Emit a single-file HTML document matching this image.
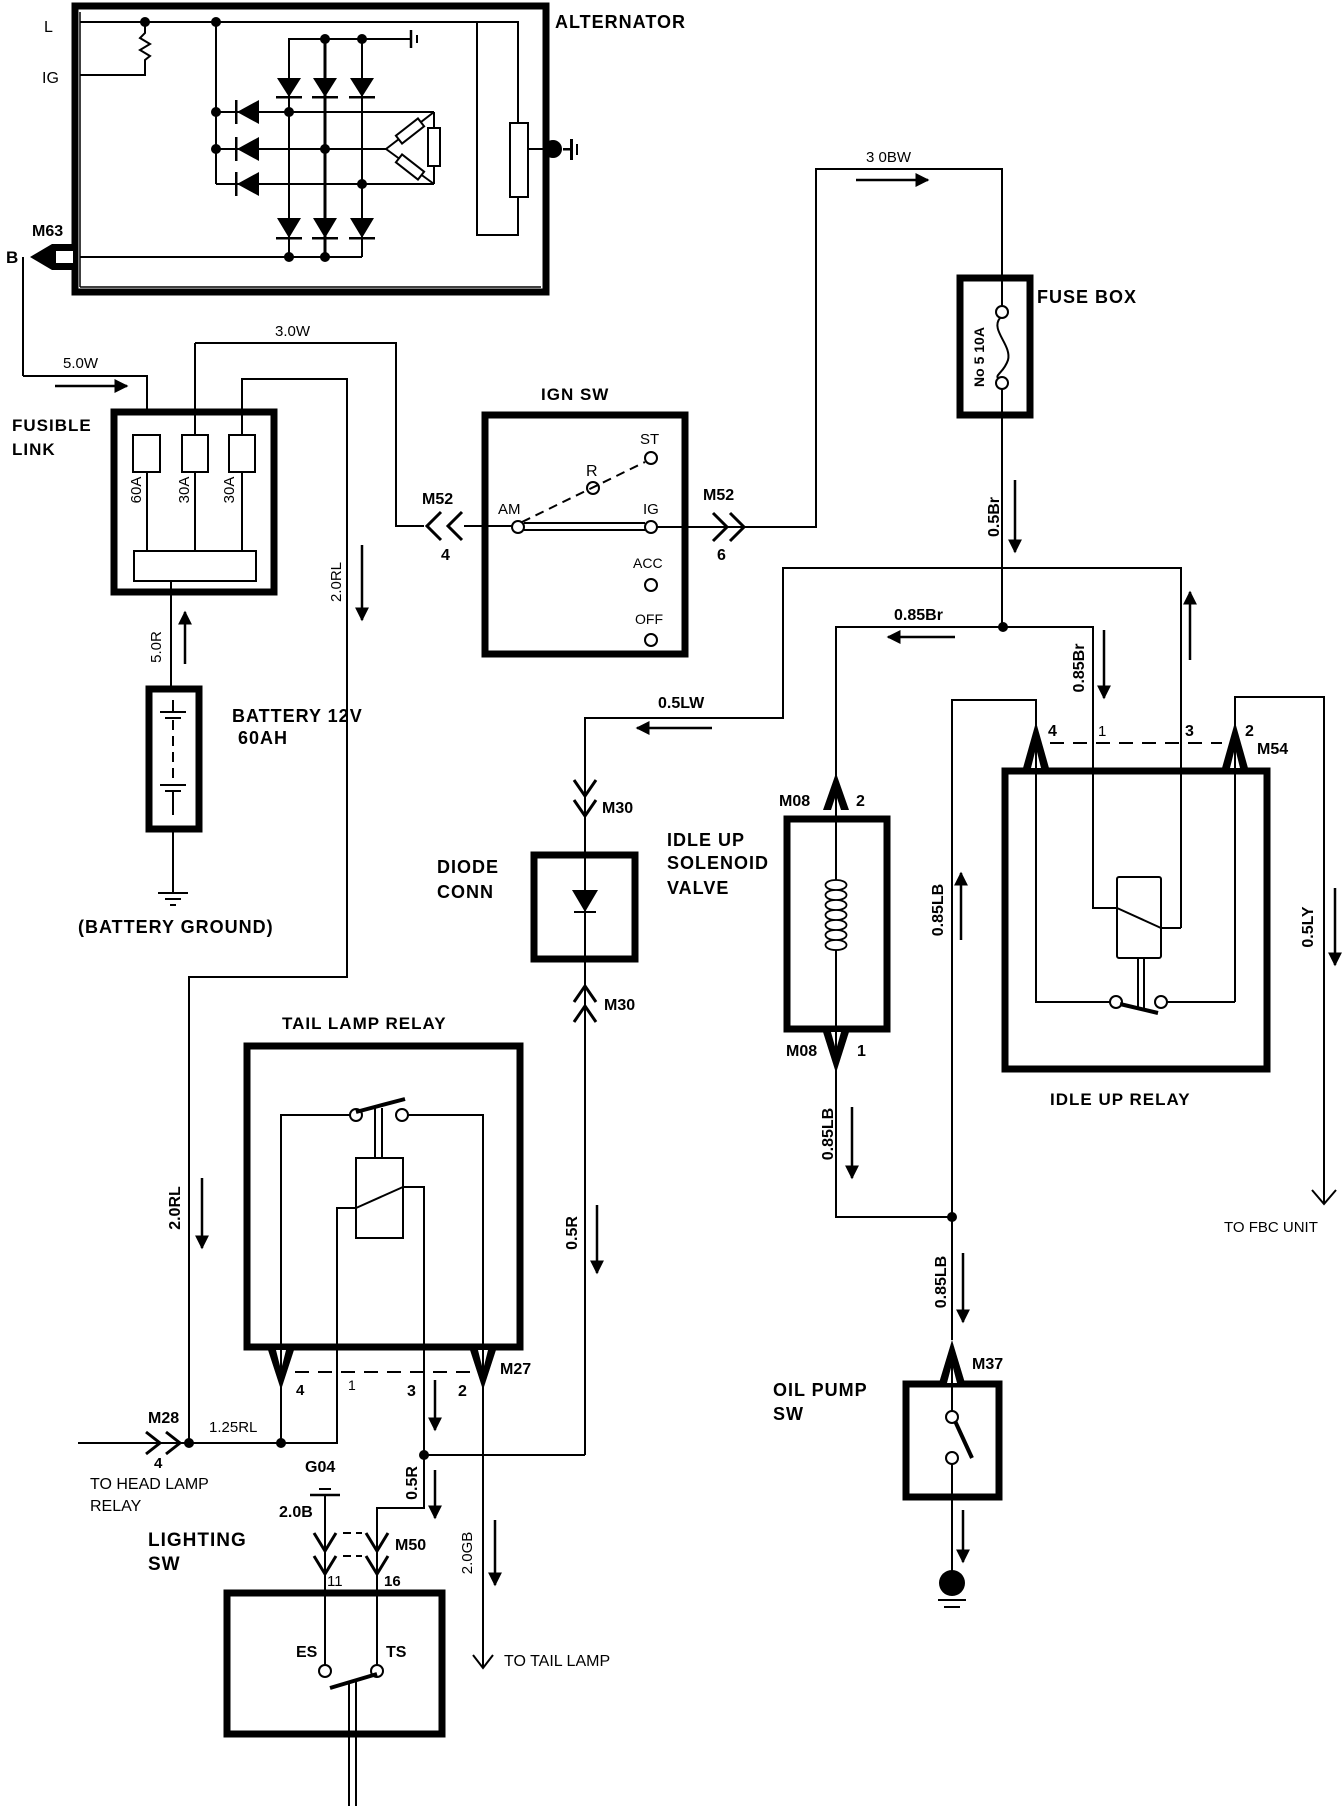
<!DOCTYPE html>
<html><head><meta charset="utf-8"><style>
html,body{margin:0;padding:0;background:#fff}
svg{display:block}
text{font-family:"Liberation Sans",Arial,sans-serif;font-weight:bold;fill:#000}
.h{letter-spacing:1px}
</style></head><body>
<svg width="1344" height="1814" viewBox="0 0 1344 1814" xmlns="http://www.w3.org/2000/svg">
<defs>
<marker id="ah" viewBox="0 0 10 10" refX="9" refY="5" markerWidth="14" markerHeight="15" markerUnits="userSpaceOnUse" orient="auto"><path d="M0,0 L10,5 L0,10z" fill="#000"/></marker>
</defs>
<rect width="1344" height="1814" fill="#fff"/>
<g fill="none" stroke="#000" stroke-width="2">

<!-- ALTERNATOR -->
<rect x="75" y="6" width="471" height="286" stroke-width="7"/>
<line x1="80" y1="287" x2="541" y2="287" stroke-width="1.5"/>
<line x1="80" y1="12" x2="80" y2="287" stroke-width="1.5"/>
<polyline points="80,22 518,22 518,123"/>
<polyline points="518,197 518,235 477,235 477,22"/>
<rect x="510" y="123" width="18" height="74"/>
<line x1="528" y1="149" x2="553" y2="149"/>
<polyline points="145,22 145,33 140,38 150,44 140,50 150,56 145,60 145,75 80,75"/>
<line x1="216" y1="22" x2="216" y2="184"/>
<polyline points="289,257 289,39 411,39"/>
<line x1="325" y1="39" x2="325" y2="257" stroke-width="3"/>
<line x1="362" y1="39" x2="362" y2="257"/>
<line x1="411" y1="30" x2="411" y2="48" stroke-width="2.5"/>
<line x1="417" y1="35" x2="417" y2="43"/>
<line x1="216" y1="112" x2="434" y2="112"/>
<line x1="216" y1="149" x2="386" y2="149"/>
<line x1="216" y1="184" x2="434" y2="184"/>
<line x1="434" y1="112" x2="434" y2="184"/>
<rect x="428" y="128" width="12" height="38" fill="#fff"/>
<line x1="386" y1="149" x2="434" y2="112"/>
<line x1="386" y1="149" x2="434" y2="184"/>
<rect x="396" y="126" width="28" height="10" fill="#fff" transform="rotate(-38 410 131)"/>
<rect x="396" y="162" width="28" height="10" fill="#fff" transform="rotate(38 410 167)"/>
<line x1="80" y1="257" x2="362" y2="257"/>
<line x1="23" y1="257" x2="23" y2="376"/>
<polyline points="23,376 147,376 147,414"/>

<!-- FUSIBLE LINK -->
<rect x="114" y="412" width="160" height="180" stroke-width="7"/>
<rect x="133" y="435" width="27" height="37"/>
<rect x="182" y="435" width="26" height="37"/>
<rect x="229" y="435" width="26" height="37"/>
<line x1="147" y1="472" x2="147" y2="551"/>
<line x1="195" y1="472" x2="195" y2="551"/>
<line x1="242" y1="472" x2="242" y2="551"/>
<line x1="195" y1="435" x2="195" y2="343"/>
<polyline points="195,343 396,343 396,526 424,526"/>
<polyline points="242,435 242,379 347,379 347,977 189,977 189,1443"/>
<rect x="134" y="551" width="122" height="30"/>
<line x1="171" y1="581" x2="171" y2="688"/>
<line x1="185" y1="664" x2="185" y2="612" stroke-width="2.5" marker-end="url(#ah)"/>
<line x1="362" y1="545" x2="362" y2="620" stroke-width="2.5" marker-end="url(#ah)"/>
<line x1="55" y1="386" x2="127" y2="386" stroke-width="2.5" marker-end="url(#ah)"/>

<!-- BATTERY -->
<rect x="149" y="689" width="50" height="140" stroke-width="7"/>
<line x1="173" y1="700" x2="173" y2="712"/>
<line x1="160" y1="712" x2="186" y2="712"/>
<line x1="165" y1="718" x2="181" y2="718"/>
<line x1="173" y1="720" x2="173" y2="785" stroke-dasharray="10,6"/>
<line x1="160" y1="785" x2="186" y2="785"/>
<line x1="165" y1="791" x2="181" y2="791"/>
<line x1="173" y1="791" x2="173" y2="815"/>
<line x1="173" y1="832" x2="173" y2="893"/>
<line x1="158" y1="893" x2="188" y2="893"/>
<line x1="165" y1="899" x2="181" y2="899"/>
<line x1="170" y1="905" x2="176" y2="905"/>

<!-- IGN SW -->
<rect x="485" y="415" width="200" height="239" stroke-width="7"/>
<line x1="464" y1="526" x2="512" y2="526"/>
<polyline points="441,512 427,526 441,540" stroke-width="3"/>
<polyline points="462,512 448,526 462,540" stroke-width="3"/>
<circle cx="518" cy="527" r="6"/>
<circle cx="651" cy="527" r="6"/>
<circle cx="593" cy="488" r="6"/>
<circle cx="651" cy="458" r="6"/>
<circle cx="651" cy="585" r="6"/>
<circle cx="651" cy="640" r="6"/>
<line x1="524" y1="523" x2="645" y2="523"/>
<line x1="524" y1="530" x2="645" y2="530"/>
<line x1="522" y1="522" x2="645" y2="462" stroke-dasharray="9,6"/>
<line x1="657" y1="527" x2="748" y2="527"/>
<polyline points="713,513 727,527 713,541" stroke-width="3"/>
<polyline points="730,513 744,527 730,541" stroke-width="3"/>
<polyline points="748,527 816,527 816,169 1002,169 1002,275"/>
<line x1="856" y1="180" x2="928" y2="180" stroke-width="2.5" marker-end="url(#ah)"/>

<!-- FUSE BOX -->
<rect x="960" y="278" width="70" height="137" stroke-width="7"/>
<line x1="1002" y1="278" x2="1002" y2="306"/>
<circle cx="1002" cy="312" r="6"/>
<path d="M1000,318 C990,330 1012,345 1008,360 C1004,372 995,375 998,378"/>
<circle cx="1002" cy="383" r="6"/>
<line x1="1002" y1="389" x2="1002" y2="627"/>
<line x1="1015" y1="480" x2="1015" y2="552" stroke-width="2.5" marker-end="url(#ah)"/>

<!-- wires to idle up relay -->
<polyline points="1181,928 1181,568 783,568 783,718 585,718 585,852"/>
<line x1="712" y1="728" x2="637" y2="728" stroke-width="2.5" marker-end="url(#ah)"/>
<polyline points="836,773 836,627 1093,627 1093,908 1117,908"/>
<line x1="955" y1="637" x2="888" y2="637" stroke-width="2.5" marker-end="url(#ah)"/>
<line x1="1104" y1="630" x2="1104" y2="698" stroke-width="2.5" marker-end="url(#ah)"/>
<line x1="1190" y1="660" x2="1190" y2="592" stroke-width="2.5" marker-end="url(#ah)"/>
<line x1="1161" y1="928" x2="1181" y2="928"/>

<!-- DIODE CONN -->
<polyline points="574,780 585,796 596,780" stroke-width="3"/>
<polyline points="574,800 585,816 596,800" stroke-width="3"/>
<rect x="534" y="855" width="101" height="104" stroke-width="7"/>
<line x1="585" y1="855" x2="585" y2="1455"/>
<line x1="574" y1="912" x2="596" y2="912"/>
<polyline points="574,1002 585,986 596,1002" stroke-width="3"/>
<polyline points="574,1022 585,1006 596,1022" stroke-width="3"/>
<line x1="597" y1="1205" x2="597" y2="1273" stroke-width="2.5" marker-end="url(#ah)"/>

<!-- IDLE UP SOLENOID -->
<rect x="787" y="819" width="100" height="210" stroke-width="7"/>
<line x1="836" y1="773" x2="836" y2="880"/>
<path d="M836,880 C850,880 850,890 836,890 C822,890 822,880 836,880 M836,890 C850,890 850,900 836,900 C822,900 822,890 836,890 M836,900 C850,900 850,910 836,910 C822,910 822,900 836,900 M836,910 C850,910 850,920 836,920 C822,920 822,910 836,910 M836,920 C850,920 850,930 836,930 C822,930 822,920 836,920 M836,930 C850,930 850,940 836,940 C822,940 822,930 836,930 M836,940 C850,940 850,950 836,950 C822,950 822,940 836,940" stroke-width="1.8"/>
<polyline points="836,950 836,1217 952,1217"/>
<line x1="852" y1="1107" x2="852" y2="1178" stroke-width="2.5" marker-end="url(#ah)"/>

<!-- IDLE UP RELAY -->
<rect x="1005" y="771" width="262" height="298" stroke-width="7"/>
<polyline points="952,1340 952,700 1036,700 1036,1002 1110,1002"/>
<polyline points="1235,746 1235,697 1324,697 1324,1204"/>
<polyline points="1312,1190 1324,1204 1336,1190" stroke-width="2"/>
<line x1="1235" y1="771" x2="1235" y2="1002"/>
<line x1="1235" y1="1002" x2="1167" y2="1002"/>
<line x1="1050" y1="743" x2="1222" y2="743" stroke-dasharray="14,9"/>
<rect x="1117" y="877" width="44" height="81" rx="2"/>
<line x1="1117" y1="908" x2="1161" y2="928"/>
<line x1="1138" y1="958" x2="1138" y2="1008"/>
<line x1="1144" y1="958" x2="1144" y2="1008"/>
<circle cx="1116" cy="1002" r="6"/>
<circle cx="1161" cy="1002" r="6"/>
<line x1="1120" y1="1004" x2="1158" y2="1013" stroke-width="4"/>
<line x1="961" y1="940" x2="961" y2="873" stroke-width="2.5" marker-end="url(#ah)"/>
<line x1="1335" y1="888" x2="1335" y2="965" stroke-width="2.5" marker-end="url(#ah)"/>

<!-- OIL PUMP SW -->
<line x1="963" y1="1253" x2="963" y2="1322" stroke-width="2.5" marker-end="url(#ah)"/>
<rect x="906" y="1384" width="93" height="113" stroke-width="7"/>
<line x1="952" y1="1384" x2="952" y2="1411"/>
<circle cx="952" cy="1417" r="6"/>
<circle cx="952" cy="1458" r="6"/>
<line x1="955" y1="1421" x2="972" y2="1458" stroke-width="4"/>
<line x1="952" y1="1464" x2="952" y2="1583"/>
<line x1="963" y1="1510" x2="963" y2="1562" stroke-width="2.5" marker-end="url(#ah)"/>
<line x1="938" y1="1600" x2="966" y2="1600"/>
<line x1="944" y1="1607" x2="960" y2="1607"/>

<!-- TAIL LAMP RELAY -->
<rect x="247" y="1046" width="273" height="301" stroke-width="7"/>
<polyline points="281,1350 281,1115 350,1115"/>
<circle cx="356" cy="1115" r="6"/>
<circle cx="402" cy="1115" r="6"/>
<polyline points="408,1115 483,1115 483,1350"/>
<line x1="356" y1="1112" x2="405" y2="1099" stroke-width="4"/>
<line x1="375" y1="1108" x2="375" y2="1158"/>
<line x1="382" y1="1108" x2="382" y2="1158"/>
<rect x="356" y="1158" width="47" height="80"/>
<line x1="356" y1="1208" x2="403" y2="1187"/>
<polyline points="356,1208 337,1208 337,1443 189,1443"/>
<polyline points="403,1187 424,1187 424,1508 377,1508 377,1590"/>
<polyline points="424,1455 585,1455"/>
<line x1="281" y1="1350" x2="281" y2="1443"/>
<line x1="483" y1="1350" x2="483" y2="1668"/>
<polyline points="473,1655 483,1668 493,1655"/>
<line x1="295" y1="1372" x2="470" y2="1372" stroke-dasharray="14,9"/>
<line x1="202" y1="1178" x2="202" y2="1248" stroke-width="2.5" marker-end="url(#ah)"/>
<line x1="435" y1="1380" x2="435" y2="1430" stroke-width="2.5" marker-end="url(#ah)"/>
<line x1="435" y1="1470" x2="435" y2="1518" stroke-width="2.5" marker-end="url(#ah)"/>
<line x1="495" y1="1520" x2="495" y2="1585" stroke-width="2.5" marker-end="url(#ah)"/>
<line x1="78" y1="1443" x2="189" y2="1443"/>
<polyline points="146,1432 160,1443 146,1454" stroke-width="3"/>
<polyline points="166,1432 180,1443 166,1454" stroke-width="3"/>

<!-- LIGHTING SW -->
<line x1="310" y1="1495" x2="340" y2="1495" stroke-width="2.5"/>
<line x1="319" y1="1489" x2="331" y2="1489"/>
<line x1="325" y1="1495" x2="325" y2="1665"/>
<line x1="377" y1="1590" x2="377" y2="1665"/>
<polyline points="314,1533 325,1551 336,1533" stroke-width="3"/>
<polyline points="314,1556 325,1574 336,1556" stroke-width="3"/>
<polyline points="366,1533 377,1551 388,1533" stroke-width="3"/>
<polyline points="366,1556 377,1574 388,1556" stroke-width="3"/>
<line x1="343" y1="1533" x2="362" y2="1533" stroke-dasharray="8,5"/>
<line x1="343" y1="1556" x2="362" y2="1556" stroke-dasharray="8,5"/>
<rect x="227" y="1593" width="215" height="141" stroke-width="7"/>
<circle cx="325" cy="1671" r="6"/>
<circle cx="377" cy="1671" r="6"/>
<line x1="330" y1="1688" x2="377" y2="1674" stroke-width="4"/>
<line x1="349" y1="1684" x2="349" y2="1806"/>
<line x1="356" y1="1682" x2="356" y2="1806"/>
</g>

<!-- filled items -->
<g fill="#000" stroke="none">
<circle cx="145" cy="22" r="5"/><circle cx="216" cy="22" r="5"/>
<circle cx="325" cy="39" r="5"/><circle cx="362" cy="39" r="5"/>
<circle cx="216" cy="112" r="5"/><circle cx="216" cy="149" r="5"/>
<circle cx="289" cy="112" r="5"/><circle cx="325" cy="149" r="5"/><circle cx="362" cy="184" r="5"/>
<circle cx="289" cy="257" r="5"/><circle cx="325" cy="257" r="5"/>
<circle cx="553" cy="149" r="9"/>
<polygon points="277,78 301,78 289,97"/><polygon points="313,78 337,78 325,97"/><polygon points="350,78 374,78 362,97"/>
<polygon points="277,218 301,218 289,238"/><polygon points="313,218 337,218 325,238"/><polygon points="350,218 374,218 362,238"/>
<rect x="276" y="96" width="26" height="2.5"/><rect x="312" y="96" width="26" height="2.5"/><rect x="349" y="96" width="26" height="2.5"/>
<rect x="276" y="237" width="26" height="2.5"/><rect x="312" y="237" width="26" height="2.5"/><rect x="349" y="237" width="26" height="2.5"/>
<polygon points="259,100 259,124 237,112"/><polygon points="259,137 259,161 237,149"/><polygon points="259,172 259,196 237,184"/>
<rect x="235" y="100" width="2.5" height="24"/><rect x="235" y="137" width="2.5" height="24"/><rect x="235" y="172" width="2.5" height="24"/>
<polygon points="30,257 52,244 75,244 75,270 52,270"/>
<polygon points="56,251 73,251 73,263 56,263" fill="#fff"/>
<rect x="563" y="148" width="8" height="2.5"/>
<rect x="570" y="139" width="3" height="21"/><rect x="576" y="144" width="2" height="11"/>
<circle cx="1003" cy="627" r="5"/>
<circle cx="952" cy="1217" r="5"/>
<circle cx="189" cy="1443" r="5"/>
<circle cx="281" cy="1443" r="5"/>
<circle cx="424" cy="1455" r="5"/>
<circle cx="952" cy="1583" r="13"/>
<polygon points="572,890 598,890 585,912"/>
<polygon points="836,773 823,810 849,810"/>
<polygon points="1036,722 1023,768 1049,768"/>
<polygon points="1235,722 1222,768 1248,768"/>
<polygon points="952,1340 939,1383 965,1383"/>
<polygon points="836,1073 823,1032 849,1032"/>
<polygon points="281,1390 268,1350 294,1350"/>
<polygon points="483,1390 470,1350 496,1350"/>
</g>
<g fill="#fff" stroke="none">
<polygon points="836,795 831,810 841,810"/>
<polygon points="1036,748 1031,768 1041,768"/>
<polygon points="1235,748 1230,768 1240,768"/>
<polygon points="952,1364 947,1383 957,1383"/>
<polygon points="836,1050 831,1032 841,1032"/>
<polygon points="281,1370 276,1350 286,1350"/>
<polygon points="483,1370 478,1350 488,1350"/>
</g>
<g stroke="#000" stroke-width="2">
<line x1="836" y1="795" x2="836" y2="810"/><line x1="1036" y1="748" x2="1036" y2="768"/><line x1="1235" y1="748" x2="1235" y2="768"/>
<line x1="952" y1="1364" x2="952" y2="1383"/><line x1="836" y1="1032" x2="836" y2="1050"/>
<line x1="281" y1="1350" x2="281" y2="1370"/><line x1="483" y1="1350" x2="483" y2="1370"/>
</g>

<!-- TEXT -->
<g font-size="16">
<text class="h" x="555" y="28" font-size="18">ALTERNATOR</text>
<text x="44" y="32" style="font-weight:normal" font-size="16">L</text>
<text x="42" y="83" style="font-weight:normal" font-size="16">IG</text>
<text x="32" y="236" font-size="16">M63</text>
<text x="6" y="263" font-size="17">B</text>
<text x="63" y="368" font-size="15" style="font-weight:normal">5.0W</text>
<text x="275" y="336" font-size="15" style="font-weight:normal">3.0W</text>
<text class="h" x="12" y="431" font-size="17">FUSIBLE</text>
<text class="h" x="12" y="455" font-size="17">LINK</text>
<text class="h" x="232" y="722" font-size="18">BATTERY 12V</text>
<text class="h" x="238" y="744" font-size="18">60AH</text>
<text class="h" x="78" y="933" font-size="18">(BATTERY GROUND)</text>
<text class="h" x="541" y="400" font-size="17">IGN SW</text>
<text x="422" y="504" font-size="16">M52</text>
<text x="441" y="560" font-size="16">4</text>
<text x="703" y="500" font-size="16">M52</text>
<text x="717" y="560" font-size="16">6</text>
<text x="498" y="514" font-size="15" style="font-weight:normal">AM</text>
<text x="643" y="514" font-size="15" style="font-weight:normal">IG</text>
<text x="640" y="444" font-size="15" style="font-weight:normal">ST</text>
<text x="586" y="476" font-size="16" style="font-weight:normal">R</text>
<text x="633" y="568" font-size="14" style="font-weight:normal">ACC</text>
<text x="635" y="624" font-size="14" style="font-weight:normal">OFF</text>
<text x="866" y="162" font-size="15" style="font-weight:normal">3 0BW</text>
<text class="h" x="1037" y="303" font-size="18">FUSE BOX</text>
<text x="894" y="620" font-size="16">0.85Br</text>
<text x="658" y="708" font-size="16">0.5LW</text>
<text x="602" y="813" font-size="16">M30</text>
<text x="604" y="1010" font-size="16">M30</text>
<text class="h" x="437" y="873" font-size="18">DIODE</text>
<text class="h" x="437" y="898" font-size="18">CONN</text>
<text class="h" x="667" y="846" font-size="18">IDLE UP</text>
<text class="h" x="667" y="869" font-size="18">SOLENOID</text>
<text class="h" x="667" y="894" font-size="18">VALVE</text>
<text x="779" y="806" font-size="16">M08</text>
<text x="856" y="806" font-size="16">2</text>
<text x="786" y="1056" font-size="16">M08</text>
<text x="857" y="1056" font-size="16">1</text>
<text x="1048" y="736" font-size="16">4</text>
<text x="1098" y="736" font-size="15" style="font-weight:normal">1</text>
<text x="1185" y="736" font-size="16">3</text>
<text x="1245" y="736" font-size="16">2</text>
<text x="1257" y="754" font-size="16">M54</text>
<text class="h" x="1050" y="1105" font-size="17">IDLE UP RELAY</text>
<text x="1224" y="1232" font-size="15" style="font-weight:normal">TO FBC UNIT</text>
<text x="972" y="1369" font-size="16">M37</text>
<text class="h" x="773" y="1396" font-size="18">OIL PUMP</text>
<text class="h" x="773" y="1420" font-size="18">SW</text>
<text class="h" x="282" y="1029" font-size="17">TAIL LAMP RELAY</text>
<text x="296" y="1395" font-size="15">4</text>
<text x="348" y="1390" font-size="14" style="font-weight:normal">1</text>
<text x="407" y="1396" font-size="16">3</text>
<text x="458" y="1396" font-size="16">2</text>
<text x="500" y="1374" font-size="16">M27</text>
<text x="148" y="1423" font-size="16">M28</text>
<text x="209" y="1432" font-size="15" style="font-weight:normal">1.25RL</text>
<text x="154" y="1468" font-size="15">4</text>
<text x="90" y="1489" font-size="16" style="font-weight:normal">TO HEAD LAMP</text>
<text x="90" y="1511" font-size="16" style="font-weight:normal">RELAY</text>
<text x="305" y="1472" font-size="16">G04</text>
<text x="279" y="1517" font-size="16">2.0B</text>
<text x="395" y="1550" font-size="16">M50</text>
<text class="h" x="148" y="1546" font-size="19">LIGHTING</text>
<text class="h" x="148" y="1570" font-size="19">SW</text>
<text x="327" y="1586" font-size="15" style="font-weight:normal">11</text>
<text x="384" y="1586" font-size="15">16</text>
<text x="296" y="1657" font-size="16">ES</text>
<text x="386" y="1657" font-size="16">TS</text>
<text x="504" y="1666" font-size="16" style="font-weight:normal">TO TAIL LAMP</text>
</g>
<g font-size="15">
<text transform="translate(141,490) rotate(-90)" text-anchor="middle" style="font-weight:normal">60A</text>
<text transform="translate(189,490) rotate(-90)" text-anchor="middle" style="font-weight:normal">30A</text>
<text transform="translate(234,490) rotate(-90)" text-anchor="middle" style="font-weight:normal">30A</text>
<text transform="translate(161,647) rotate(-90)" text-anchor="middle" style="font-weight:normal">5.0R</text>
<text transform="translate(341,582) rotate(-90)" text-anchor="middle" style="font-weight:normal">2.0RL</text>
<text transform="translate(984,357) rotate(-90)" text-anchor="middle" font-size="14">No 5 10A</text>
<text transform="translate(999,517) rotate(-90)" text-anchor="middle" font-size="16">0.5Br</text>
<text transform="translate(1084,668) rotate(-90)" text-anchor="middle" font-size="16">0.85Br</text>
<text transform="translate(943,910) rotate(-90)" text-anchor="middle" font-size="16">0.85LB</text>
<text transform="translate(1313,927) rotate(-90)" text-anchor="middle" font-size="16">0.5LY</text>
<text transform="translate(833,1134) rotate(-90)" text-anchor="middle" font-size="16">0.85LB</text>
<text transform="translate(946,1282) rotate(-90)" text-anchor="middle" font-size="16">0.85LB</text>
<text transform="translate(180,1208) rotate(-90)" text-anchor="middle" font-size="16">2.0RL</text>
<text transform="translate(577,1233) rotate(-90)" text-anchor="middle" font-size="16">0.5R</text>
<text transform="translate(417,1483) rotate(-90)" text-anchor="middle" font-size="16">0.5R</text>
<text transform="translate(472,1553) rotate(-90)" text-anchor="middle" font-size="15" style="font-weight:normal">2.0GB</text>
</g>
</svg>
</body></html>
